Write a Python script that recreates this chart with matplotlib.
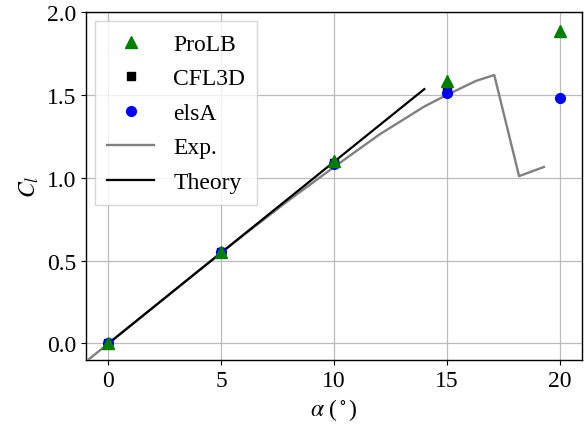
import matplotlib
matplotlib.use("Agg")
import matplotlib.pyplot as plt

plt.rcParams.update({
    "font.family": ["Liberation Serif", "DejaVu Serif"],
    "mathtext.fontset": "stix",
    "font.size": 17,
    "axes.linewidth": 1.0,
})

# lift coefficient vs angle of attack
alpha_prolb = [0, 5, 10, 15, 20]
cl_prolb = [0.0, 0.555, 1.10, 1.585, 1.885]

alpha_cfl3d = [0, 5, 10, 15]
cl_cfl3d = [0.0, 0.55, 1.09, 1.545]

alpha_elsa = [0, 5, 10, 15, 20]
cl_elsa = [0.0, 0.555, 1.085, 1.51, 1.48]

alpha_exp = [-1.0, 0.0, 2.0, 4.0, 6.0, 8.0, 10.0, 12.0, 14.0, 15.0, 16.3, 17.1, 18.2, 19.3]
cl_exp = [-0.11, 0.0, 0.22, 0.44, 0.655, 0.865, 1.065, 1.26, 1.43, 1.50, 1.585, 1.62, 1.01, 1.065]

alpha_theory = [0.0, 14.0]
cl_theory = [0.0, 1.535]

fig = plt.figure(figsize=(5.84, 4.35), dpi=100)
ax = fig.add_axes([0.147, 0.170, 0.850, 0.800])

ax.plot(alpha_prolb, cl_prolb, "^", color="green", markersize=8, label="ProLB", zorder=5)
ax.plot(alpha_cfl3d, cl_cfl3d, "s", color="black", markersize=6, label="CFL3D", zorder=4)
ax.plot(alpha_elsa, cl_elsa, "o", color="blue", markersize=7, label="elsA", zorder=4)
ax.plot(alpha_exp, cl_exp, "-", color="gray", linewidth=1.7, label="Exp.", zorder=3)
ax.plot(alpha_theory, cl_theory, "-", color="black", linewidth=1.6, label="Theory", zorder=3)

ax.set_xlim(-1, 21)
ax.set_ylim(-0.1, 2.0)
ax.set_xticks([0, 5, 10, 15, 20])
ax.set_yticks([0.0, 0.5, 1.0, 1.5, 2.0])
ax.set_yticklabels(["0.0", "0.5", "1.0", "1.5", "2.0"])
ax.grid(True, color="#bbbbbb", linewidth=0.9)
ax.set_axisbelow(True)

ax.set_xlabel(r"$\alpha$ ($^\circ$)")
ax.set_ylabel(r"$C_l$")

ax.legend(loc="upper left", fancybox=False, edgecolor="#cccccc", framealpha=0.8,
          handlelength=2.0, borderpad=0.5, borderaxespad=0.4, labelspacing=0.55)

fig.savefig("out.png", dpi=100)
